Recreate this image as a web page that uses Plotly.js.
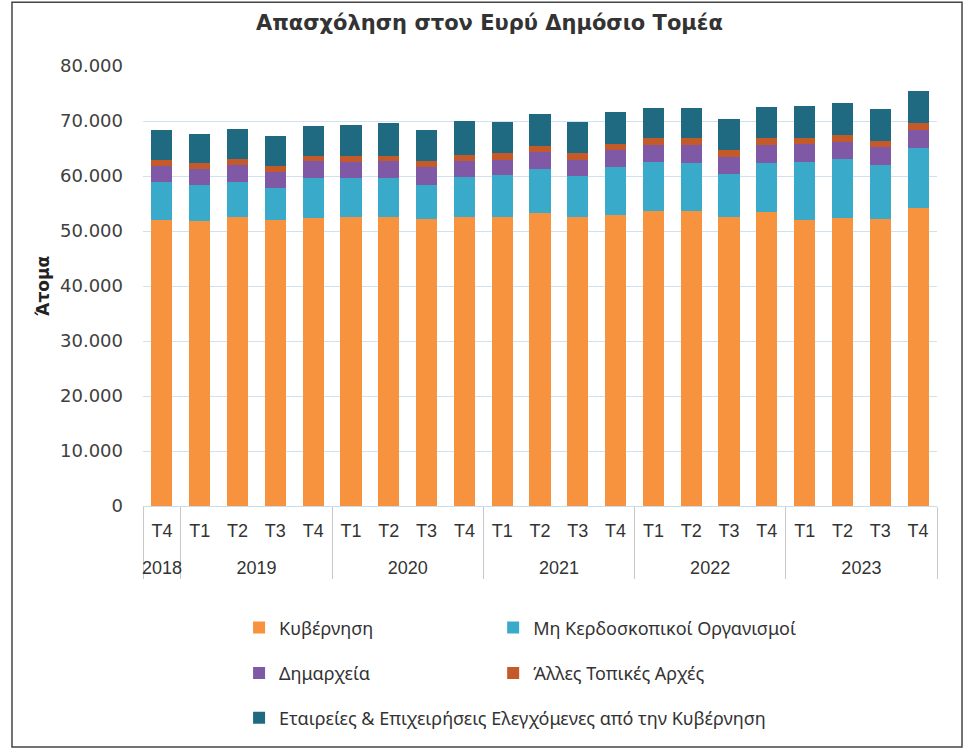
<!DOCTYPE html>
<html>
<head>
<meta charset="utf-8">
<script src="https://cdn.plot.ly/plotly-3.0.1.min.js"></script>
<style>
  html, body { margin: 0; padding: 0; background: #fff; }
  #chart { width: 973px; height: 750px; }
</style>
</head>
<body>
<div id="chart"></div>
<script>
const years = ["2018","2019","2019","2019","2019","2020","2020","2020","2020","2021","2021","2021","2021","2022","2022","2022","2022","2023","2023","2023","2023"];
const quarters = ["T4","T1","T2","T3","T4","T1","T2","T3","T4","T1","T2","T3","T4","T1","T2","T3","T4","T1","T2","T3","T4"];

const seriesNames = ["Κυβέρνηση", "Μη Κερδοσκοπικοί Οργανισμοί", "Δημαρχεία", "Άλλες Τοπικές Αρχές", "Εταιρείες & Επιχειρήσεις Ελεγχόμενες από την Κυβέρνηση"];

const kyvernisi = [52000,51800,52500,52000,52400,52500,52500,52100,52600,52600,53300,52500,52900,53600,53600,52600,53400,52000,52300,52100,54100];
const mkOrganismoi = [6900,6550,6400,5750,7200,7150,7150,6350,7200,7600,7900,7450,8750,8950,8800,7800,8950,10500,10750,9900,10950];
const dimarxeia = [2900,2850,3050,3050,3050,2900,3050,3100,2850,2800,3150,3050,3150,3100,3250,3100,3350,3350,3200,3200,3400];
const allesArxes = [1200,1100,1100,1050,1050,1100,950,1100,1150,1150,1150,1150,1100,1200,1200,1150,1150,1050,1200,1250,1100];
const etaireies = [5450,5250,5450,5450,5450,5700,5900,5800,6200,5650,5700,5700,5750,5600,5600,5800,5700,5900,5750,5800,5950];

// Inner-level labels: a blank second line spaces the year row like the reference;
// the first (2018) "T4" gets a zero-width space so Plotly keeps T1..T4 order inside each year.
const quarterLabels = quarters.map((q, i) => (i === 0 ? q + "\u200B" : q) + "<br>\u00a0");

const colors = ["#F7923F", "#3AAACB", "#7F58A6", "#C4592A", "#1F6A80"];
const legendIds = ["legend", "legend2", "legend3", "legend4", "legend5"];
const values = [kyvernisi, mkOrganismoi, dimarxeia, allesArxes, etaireies];

const traces = values.map((v, i) => ({
  type: "bar",
  name: seriesNames[i],
  x: [years, quarterLabels],
  y: v,
  marker: { color: colors[i], line: { width: 0 } },
  legend: legendIds[i],
  hoverinfo: "y+name"
}));

const legendFont = { family: "Noto Sans, Open Sans, sans-serif", size: 18, color: "#333" };
function leg(x, y) {
  return {
    orientation: "h", x: x, xanchor: "left", y: y, yanchor: "middle",
    font: legendFont, traceorder: "normal",
    bgcolor: "rgba(0,0,0,0)", borderwidth: 0
  };
}
const col1 = 0.121, col2 = 0.441;

const layout = {
  width: 973, height: 750,
  margin: { l: 143, r: 36, t: 66, b: 244 },
  paper_bgcolor: "#fff", plot_bgcolor: "#fff",
  separators: ",.",
  barmode: "stack",
  bargap: 0.44,
  title: {
    text: "Απασχόληση στον Ευρύ Δημόσιο Τομέα",
    font: { family: "DejaVu Sans, sans-serif", size: 21, color: "#333", weight: "bold" },
    x: 0.503, xanchor: "center", y: 0.97, yanchor: "middle"
  },
  xaxis: {
    type: "multicategory",
    showline: true, linecolor: "#C9DCEB", linewidth: 1,
    showdividers: true, dividercolor: "#C8C8C8", dividerwidth: 1,
    ticklabelstandoff: 8,
    tickfont: { family: "Liberation Sans, Arial, sans-serif", size: 18, color: "#333" },
    showgrid: false
  },
  yaxis: {
    range: [0, 80000], dtick: 10000, tickformat: ",d",
    showgrid: true, gridcolor: "#CFE2F1", gridwidth: 1,
    zeroline: true, zerolinecolor: "#CFE2F1", zerolinewidth: 1,
    showline: false,
    ticklabelstandoff: 19,
    tickfont: { family: "DejaVu Sans, Verdana, sans-serif", size: 18, color: "#404040" },
    title: { text: "Άτομα", standoff: 6, font: { family: "DejaVu Sans, sans-serif", size: 17, color: "#222", weight: "bold" } }
  },
  legend: leg(col1, -0.277),
  legend2: leg(col2, -0.277),
  legend3: leg(col1, -0.380),
  legend4: leg(col2, -0.380),
  legend5: leg(col1, -0.482),
  shapes: [{
    type: "rect", xref: "paper", yref: "paper",
    x0: -0.165, x1: 1.0315, y0: -0.548, y1: 1.145,
    line: { color: "#444", width: 1.5 }, fillcolor: "rgba(0,0,0,0)", layer: "below"
  }],
  showlegend: true
};

Plotly.newPlot("chart", traces, layout, { displayModeBar: false, staticPlot: true });
</script>
</body>
</html>
